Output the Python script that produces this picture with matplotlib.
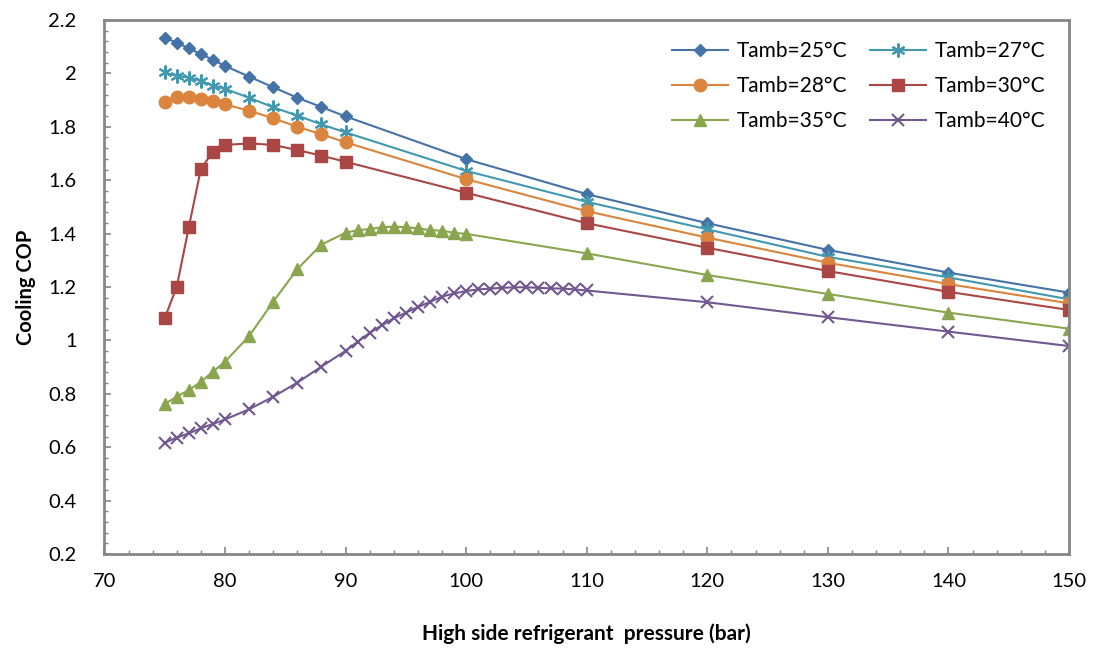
import numpy as np
import matplotlib
matplotlib.use("Agg")
import matplotlib.pyplot as plt
from matplotlib.ticker import MultipleLocator, FuncFormatter

# pressures (bar)
p_base = [75, 76, 77, 78, 79, 80, 82, 84, 86, 88, 90, 100, 110, 120, 130, 140, 150]
p_35 = [75, 76, 77, 78, 79, 80, 82, 84, 86, 88, 90, 91, 92, 93, 94, 95, 96, 97,
        98, 99, 100, 110, 120, 130, 140, 150]
p_40 = [75, 76, 77, 78, 79, 80, 82, 84, 86, 88, 90, 91, 92, 93, 94, 95, 96, 97,
        98, 99, 100, 101, 102, 103, 104, 105, 106, 107, 108, 109, 110,
        120, 130, 140, 150]

# cooling COP
cop_25 = [2.134, 2.115, 2.094, 2.072, 2.051, 2.028, 1.988, 1.948, 1.909, 1.874,
          1.839, 1.679, 1.548, 1.439, 1.339, 1.254, 1.179]
cop_27 = [2.004, 1.991, 1.984, 1.972, 1.954, 1.942, 1.909, 1.873, 1.842, 1.809,
          1.779, 1.635, 1.519, 1.416, 1.313, 1.236, 1.154]
cop_28 = [1.894, 1.913, 1.913, 1.904, 1.897, 1.884, 1.860, 1.832, 1.800, 1.772,
          1.742, 1.604, 1.484, 1.385, 1.291, 1.211, 1.139]
cop_30 = [1.083, 1.201, 1.424, 1.642, 1.707, 1.732, 1.738, 1.732, 1.713, 1.692,
          1.669, 1.553, 1.439, 1.347, 1.260, 1.182, 1.114]
cop_35 = [0.762, 0.789, 0.814, 0.845, 0.883, 0.920, 1.016, 1.145, 1.267, 1.359,
          1.403, 1.413, 1.417, 1.424, 1.426, 1.424, 1.420, 1.413, 1.411, 1.403,
          1.399, 1.326, 1.245, 1.174, 1.104, 1.044]
cop_40 = [0.617, 0.636, 0.652, 0.671, 0.687, 0.704, 0.742, 0.789, 0.842, 0.902,
          0.961, 0.995, 1.028, 1.056, 1.083, 1.104, 1.125, 1.144, 1.164, 1.176,
          1.185, 1.191, 1.194, 1.197, 1.199, 1.199, 1.197, 1.195, 1.194, 1.191,
          1.187, 1.143, 1.087, 1.033, 0.979]

plt.rcParams['font.family'] = ['Lato', 'DejaVu Sans']

fig = plt.figure(figsize=(10.99, 6.58), dpi=100)
ax = fig.add_axes([0.095, 0.158, 0.8777, 0.8116])

l25, = ax.plot(p_base, cop_25, color='#4572A7', lw=1.5, marker='D', ms=6.5, label='Tamb=25°C')
l27, = ax.plot(p_base, cop_27, color='#4198AF', lw=1.5, marker=(6, 2, 0), ms=10,
               mew=1.5, label='Tamb=27°C')
l28, = ax.plot(p_base, cop_28, color='#DB843D', lw=1.5, marker='o', ms=9, label='Tamb=28°C')
l30, = ax.plot(p_base, cop_30, color='#AA4643', lw=1.5, marker='s', ms=9, label='Tamb=30°C')
l35, = ax.plot(p_35, cop_35, color='#89A54E', lw=1.5, marker='^', ms=9, label='Tamb=35°C')
l40, = ax.plot(p_40, cop_40, color='#71588F', lw=1.5, marker='x', ms=9, mew=1.5,
               label='Tamb=40°C')

ax.set_xlim(70, 150)
ax.set_ylim(0.2, 2.2)
ax.xaxis.set_major_locator(MultipleLocator(10))
ax.xaxis.set_minor_locator(MultipleLocator(2))
ax.yaxis.set_major_locator(MultipleLocator(0.2))
ax.yaxis.set_minor_locator(MultipleLocator(0.04))
ax.yaxis.set_major_formatter(FuncFormatter(lambda v, pos: '%g' % round(v, 2)))

for s in ax.spines.values():
    s.set_color('#868686')
    s.set_linewidth(2)
ax.tick_params(which='both', direction='in', color='#868686', top=False, right=False,
               labelsize=14.5)
ax.tick_params(which='major', length=5, width=1.2)
ax.tick_params(which='minor', length=3, width=1)
ax.tick_params(axis='y', pad=20)
ax.tick_params(axis='x', pad=14)

ax.set_xlabel('High side refrigerant  pressure (bar)', fontsize=15, fontweight='bold',
              labelpad=24)
ax.set_ylabel('Cooling COP', fontsize=14.5, fontweight='bold', labelpad=9)

ax.legend(handles=[l25, l28, l35, l27, l30, l40], ncol=2, loc='upper right',
          bbox_to_anchor=(0.995, 0.995), frameon=False, fontsize=15,
          handlelength=2.7, columnspacing=1.1, labelspacing=0.72, handletextpad=0.4)

fig.savefig('out.png', dpi=100)
